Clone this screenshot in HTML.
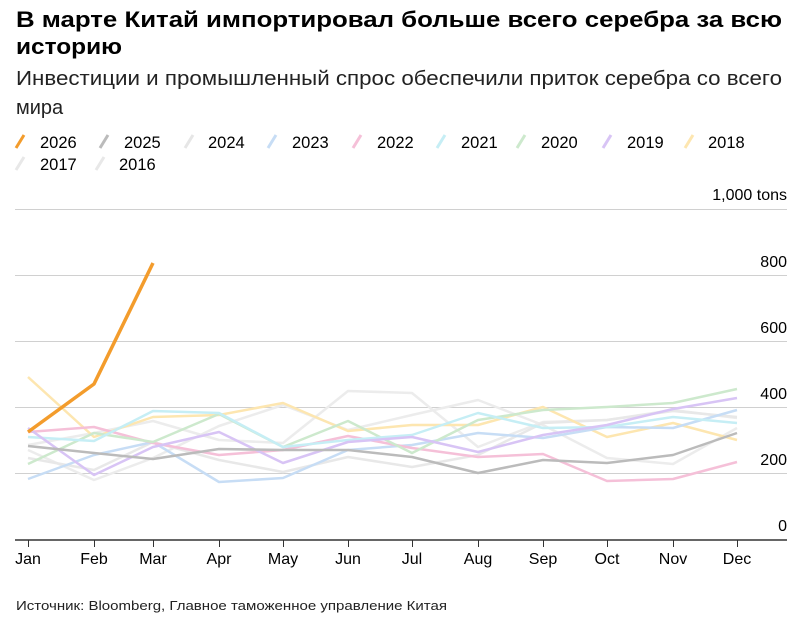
<!DOCTYPE html>
<html><head><meta charset="utf-8"><style>
body{margin:0;background:#fff;}
svg{display:block;font-family:"Liberation Sans",sans-serif;}
</style></head><body>
<svg width="802" height="619" viewBox="0 0 802 619" xmlns="http://www.w3.org/2000/svg">
<text x="16" y="27" font-size="22" font-weight="bold" fill="#000" textLength="766" lengthAdjust="spacingAndGlyphs">В марте Китай импортировал больше всего серебра за всю</text>
<text x="16" y="54" font-size="22" font-weight="bold" fill="#000" textLength="106" lengthAdjust="spacingAndGlyphs">историю</text>
<text x="16" y="85" font-size="20" fill="#222" textLength="766" lengthAdjust="spacingAndGlyphs">Инвестиции и промышленный спрос обеспечили приток серебра со всего</text>
<text x="16" y="114" font-size="20" fill="#222">мира</text>
<g font-size="16.5" fill="#000" stroke-width="3" stroke-linecap="butt">
<line x1="16" y1="148" x2="24" y2="135" stroke="#f39c2c"/><text x="40" y="148">2026</text>
<line x1="100" y1="148" x2="108" y2="135" stroke="#bbb"/><text x="124" y="148">2025</text>
<line x1="185" y1="148" x2="193" y2="135" stroke="#e6e6e6"/><text x="208" y="148">2024</text>
<line x1="268" y1="148" x2="276" y2="135" stroke="#c7ddf5"/><text x="292" y="148">2023</text>
<line x1="353" y1="148" x2="361" y2="135" stroke="#f5c0d8"/><text x="377" y="148">2022</text>
<line x1="437" y1="148" x2="445" y2="135" stroke="#c6eef5"/><text x="461" y="148">2021</text>
<line x1="517" y1="148" x2="525" y2="135" stroke="#cde9cd"/><text x="541" y="148">2020</text>
<line x1="603" y1="148" x2="611" y2="135" stroke="#d8c4f5"/><text x="627" y="148">2019</text>
<line x1="685" y1="148" x2="693" y2="135" stroke="#fde6b0"/><text x="708" y="148">2018</text>
<line x1="16" y1="170" x2="24" y2="157" stroke="#e8e8e8"/><text x="40" y="170">2017</text>
<line x1="96" y1="170" x2="104" y2="157" stroke="#e8e8e8"/><text x="119" y="170">2016</text>
</g>
<g stroke="#d0d0d0" stroke-width="1">
<line x1="15" y1="209.5" x2="787" y2="209.5"/>
<line x1="15" y1="275.5" x2="787" y2="275.5"/>
<line x1="15" y1="341.5" x2="787" y2="341.5"/>
<line x1="15" y1="407.5" x2="787" y2="407.5"/>
<line x1="15" y1="473.5" x2="787" y2="473.5"/>
</g>
<g font-size="16" fill="#000" text-anchor="end">
<text x="787" y="200">1,000 tons</text>
<text x="787" y="267">800</text>
<text x="787" y="333">600</text>
<text x="787" y="399">400</text>
<text x="787" y="465">200</text>
<text x="787" y="531">0</text>
</g>
<g fill="none" stroke-width="2.5" stroke-linejoin="round">
<polyline stroke="#ececec" points="28,445 94,433 153,421 219,440 283,443 348,391 412,393 478,447 543,422 607,420 673,410 737,418"/>
<polyline stroke="#ececec" points="28,450 94,480 153,458 219,426 283,405 348,430 412,415 478,400 543,425 607,458 673,464 737,428"/>
<polyline stroke="#e8e8e8" points="28,458 94,470 153,442 219,460 283,472 348,457 412,467 478,455 543,423 607,420 673,411 737,417"/>
<polyline stroke="#fde6b0" points="28,377 94,437 153,417 219,415 283,403 348,431 412,425 478,425 543,407 607,437 673,423 737,440"/>
<polyline stroke="#c7ddf5" points="28,479 94,455 153,442 219,482 283,478 348,450 412,445 478,433 543,438 607,427 673,428 737,410"/>
<polyline stroke="#f5c0d8" points="28,432 94,427 153,443 219,455 283,450 348,436 412,448 478,457 543,454 607,481 673,479 737,462"/>
<polyline stroke="#cde9cd" points="28,464 94,433 153,442 219,414 283,447 348,421 412,453 478,420 543,410 607,407 673,403 737,389"/>
<polyline stroke="#c6eef5" points="28,437 94,441 153,411 219,413 283,447 348,440 412,435 478,413 543,428 607,427 673,417 737,423"/>
<polyline stroke="#d8c4f5" points="28,428 94,475 153,447 219,432 283,463 348,442 412,437 478,452 543,435 607,425 673,409 737,398"/>
<polyline stroke="#bbbbbb" points="28,446 94,453 153,459 219,449 283,450 348,450 412,457 478,473 543,460 607,463 673,455 737,433"/>
<polyline stroke="#f39c2c" stroke-width="3.5" points="28,432 94,384 153,263"/>
</g>
<line x1="15" y1="540" x2="787" y2="540" stroke="#333" stroke-width="1.5"/>
<g stroke="#333" stroke-width="1">
<line x1="28.5" y1="540" x2="28.5" y2="547"/><line x1="94.5" y1="540" x2="94.5" y2="547"/><line x1="153.5" y1="540" x2="153.5" y2="547"/><line x1="219.5" y1="540" x2="219.5" y2="547"/><line x1="283.5" y1="540" x2="283.5" y2="547"/><line x1="348.5" y1="540" x2="348.5" y2="547"/><line x1="412.5" y1="540" x2="412.5" y2="547"/><line x1="478.5" y1="540" x2="478.5" y2="547"/><line x1="543.5" y1="540" x2="543.5" y2="547"/><line x1="607.5" y1="540" x2="607.5" y2="547"/><line x1="673.5" y1="540" x2="673.5" y2="547"/><line x1="737.5" y1="540" x2="737.5" y2="547"/>
</g>
<g font-size="16" fill="#000" text-anchor="middle">
<text x="28" y="564">Jan</text><text x="94" y="564">Feb</text><text x="153" y="564">Mar</text><text x="219" y="564">Apr</text><text x="283" y="564">May</text><text x="348" y="564">Jun</text><text x="412" y="564">Jul</text><text x="478" y="564">Aug</text><text x="543" y="564">Sep</text><text x="607" y="564">Oct</text><text x="673" y="564">Nov</text><text x="737" y="564">Dec</text>
</g>
<text x="16" y="610" font-size="13" fill="#222" textLength="431" lengthAdjust="spacingAndGlyphs">Источник: Bloomberg, Главное таможенное управление Китая</text>
</svg>
</body></html>
